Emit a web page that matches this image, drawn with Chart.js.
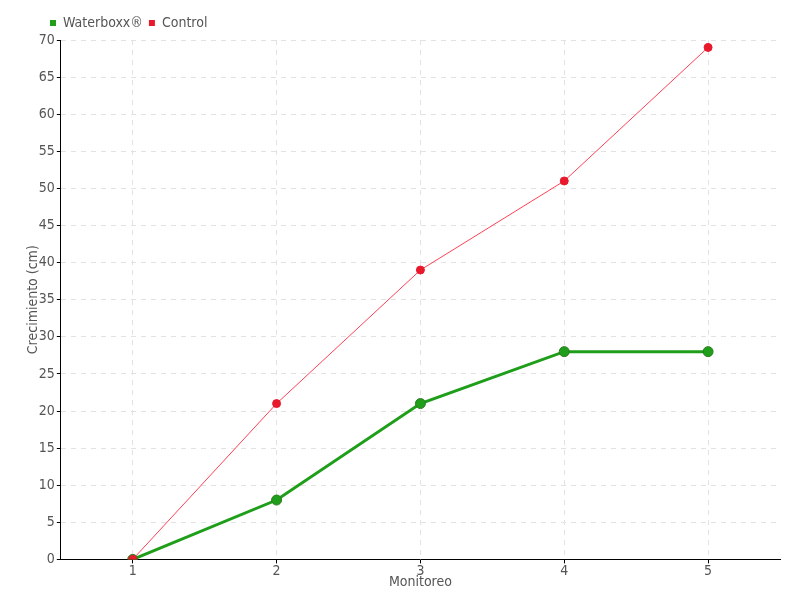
<!DOCTYPE html>
<html>
<head>
<meta charset="utf-8">
<script src="https://cdn.jsdelivr.net/npm/chart.js@4/dist/chart.umd.min.js"></script>
<style>
  html, body { margin: 0; padding: 0; background: #fff; }
  #wrap { width: 800px; height: 600px; }
</style>
</head>
<body>
<div id="wrap"><canvas id="chart"></canvas></div>
<script>
// --- data ---
const monitoreo = ['1', '2', '3', '4', '5'];
const waterboxx = [0, 8, 21, 28, 28];
const control = [0, 21, 39, 51, 69];

const FONT = "'Liberation Sans Narrow', 'DejaVu Sans Condensed', sans-serif";
const TEXT = '#555';

// nudge the legend to the right, like the reference
const legendShift = {
    id: 'legendShift',
    afterLayout(chart) {
        if (chart.legend) chart.legend.left += 33;
    }
};

new Chart(document.getElementById('chart'), {
    type: 'line',
    data: {
        labels: monitoreo,
        datasets: [{
            label: 'Waterboxx®',
            data: waterboxx,
            borderColor: '#1f9e1a',
            backgroundColor: '#1f9e1a',
            borderWidth: 3,
            pointRadius: 5,
            pointBackgroundColor: '#1f9e1a',
            pointBorderColor: '#2e7a22',
            pointBorderWidth: 1,
            tension: 0,
            order: 1
        }, {
            label: 'Control',
            data: control,
            borderColor: '#ff4055',
            backgroundColor: '#e8192c',
            borderWidth: 1,
            pointRadius: 4,
            pointBackgroundColor: '#e8192c',
            pointBorderColor: '#e8192c',
            pointBorderWidth: 1,
            tension: 0,
            order: 0
        }]
    },
    options: {
        responsive: true,
        maintainAspectRatio: false,
        animation: false,
        layout: { padding: { left: 11, right: 20, top: 10, bottom: 0 } },
        plugins: {
            legend: {
                position: 'top',
                align: 'start',
                labels: {
                    boxWidth: 6,
                    boxHeight: 6,
                    padding: 6,
                    color: TEXT,
                    font: { family: FONT, size: 14 },
                    sort: (a, b) => a.datasetIndex - b.datasetIndex,
                    generateLabels(chart) {
                        return Chart.defaults.plugins.legend.labels.generateLabels(chart)
                            .map(item => Object.assign(item, { lineWidth: 0 }));
                    }
                }
            },
            tooltip: { enabled: false }
        },
        scales: {
            x: {
                offset: true,
                grid: {
                    offset: false,
                    color: '#e2e2e2',
                    tickColor: '#000',
                    tickLength: 4
                },
                border: { color: '#000', width: 1, dash: [5, 5] },
                ticks: { color: TEXT, font: { family: FONT, size: 14 }, padding: 0 },
                title: {
                    display: true,
                    text: 'Monitoreo',
                    color: TEXT,
                    font: { family: FONT, size: 14 },
                    padding: { top: -6, bottom: 9 }
                }
            },
            y: {
                min: 0,
                max: 70,
                grid: {
                    color: '#e2e2e2',
                    tickColor: '#000',
                    tickLength: 4
                },
                border: { color: '#000', width: 1, dash: [5, 5] },
                ticks: {
                    stepSize: 5,
                    color: TEXT,
                    font: { family: FONT, size: 14 },
                    padding: 2
                },
                title: {
                    display: true,
                    text: 'Crecimiento (cm)',
                    color: TEXT,
                    font: { family: FONT, size: 14 },
                    padding: { top: 14, bottom: -5 }
                }
            }
        }
    },
    plugins: [legendShift]
});
</script>
</body>
</html>
